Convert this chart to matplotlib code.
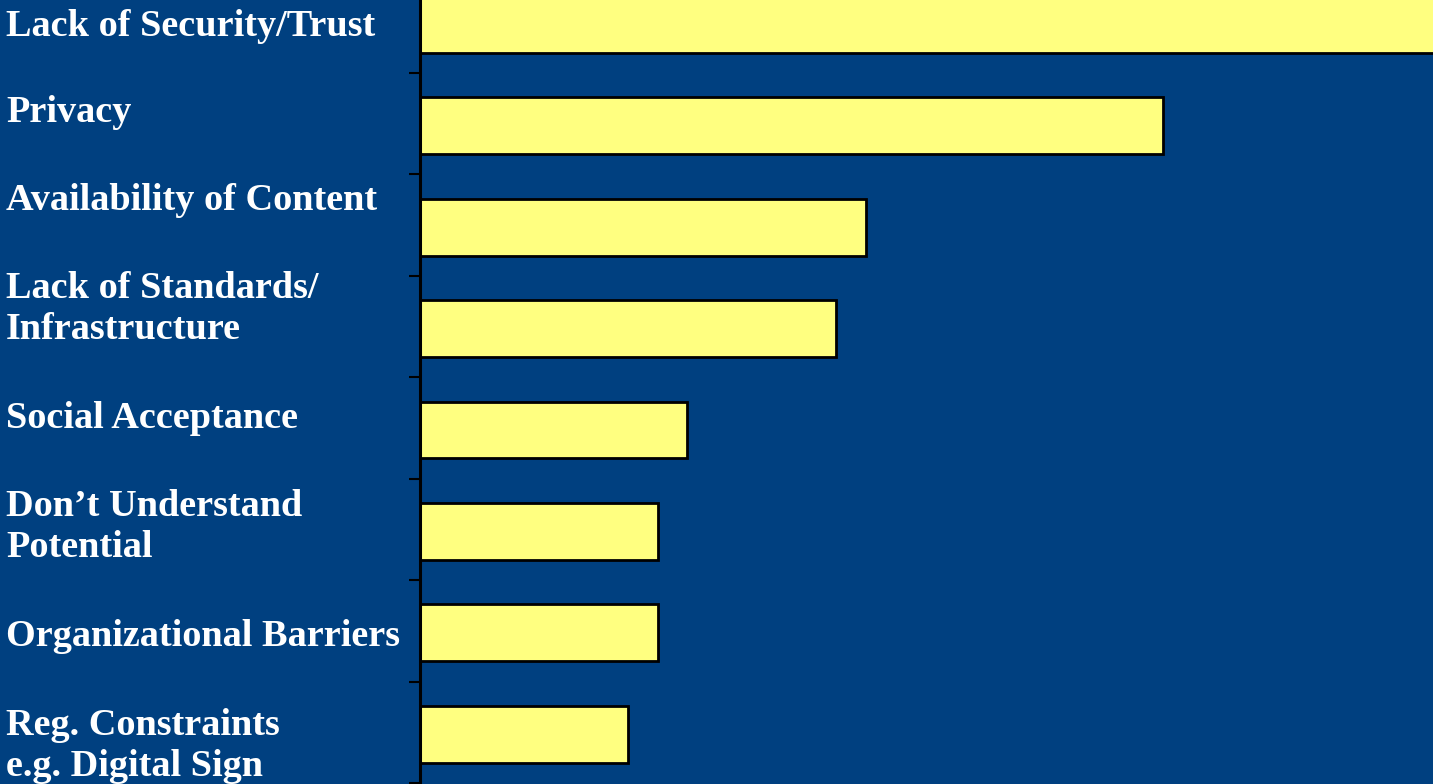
import matplotlib.pyplot as plt
import numpy as np

# barriers, top to bottom
categories = ["Lack of Security/Trust", "Privacy", "Availability of Content",
              "Lack of Standards/\nInfrastructure", "Social Acceptance",
              "Don\u2019t Understand\nPotential", "Organizational Barriers",
              "Reg. Constraints\ne.g. Digital Sign"]
values = [36, 25, 15, 14, 9, 8, 8, 7]

# label text centres (pixels from top), as placed on the slide
label_y = [26, 112, 201, 309, 418, 527, 637, 746]

bg = '#004080'
bar_col = '#FFFF80'

W, H = 1433, 784
fig = plt.figure(figsize=(W / 100, H / 100), dpi=100, facecolor=bg)
ax = fig.add_axes([420 / W, 0, 1013 / W, 1])
ax.set_facecolor(bg)

y = np.arange(len(categories))
ax.barh(y + 0.02, values, height=0.56, color=bar_col, edgecolor='black', linewidth=2)

for s in ['top', 'right', 'bottom']:
    ax.spines[s].set_visible(False)
ax.spines['left'].set_linewidth(2.2)
ax.spines['left'].set_color('black')

ax.set_xticks([])
ax.set_yticks(np.arange(-0.5, len(categories), 1.0))
ax.set_yticklabels([])
ax.tick_params(axis='y', direction='out', length=8, width=1.5, color='black')

# limits after the ticks, so set_yticks does not widen them
ax.set_xlim(0, 34.1)
ax.set_ylim(7.51, -0.22)

for lab, py in zip(categories, label_y):
    fig.text(6 / W, 1 - py / H, lab, ha='left', va='center', color='white',
             fontsize=27.5, fontweight='bold', family='Liberation Serif',
             linespacing=1.25)

fig.savefig('out.png', dpi=100, facecolor=bg)
